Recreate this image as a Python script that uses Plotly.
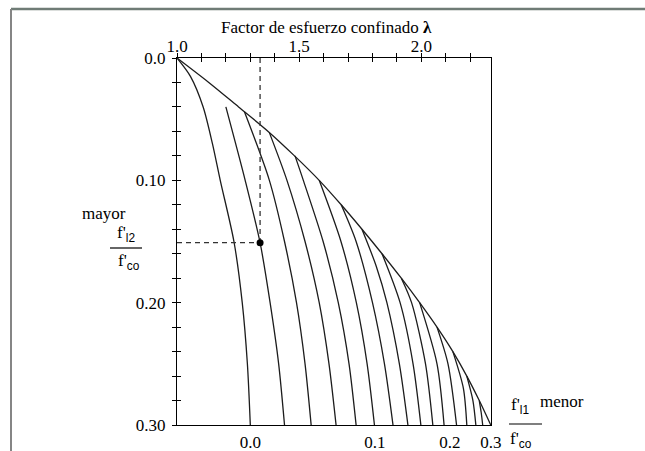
import plotly.graph_objects as go

# ---------------- data ----------------
# smaller confining ratio f'l1/f'co for each curve
curve_ratio = [0.00, 0.02, 0.04, 0.06, 0.08, 0.10, 0.12, 0.14,
               0.16, 0.18, 0.20, 0.22, 0.24, 0.26, 0.28]
# larger confining ratio f'l2/f'co along each curve
curve_v = [
    [0.000, 0.015, 0.040, 0.070, 0.100, 0.150, 0.200, 0.250, 0.300],
    [0.040, 0.100, 0.151, 0.200, 0.250, 0.300],
    [0.044, 0.100, 0.150, 0.200, 0.250, 0.300],
    [0.061, 0.100, 0.150, 0.200, 0.250, 0.300],
    [0.080, 0.100, 0.150, 0.200, 0.250, 0.300],
    [0.100, 0.150, 0.200, 0.250, 0.300],
    [0.120, 0.150, 0.200, 0.250, 0.300],
    [0.140, 0.170, 0.200, 0.250, 0.300],
    [0.160, 0.200, 0.250, 0.300],
    [0.180, 0.200, 0.250, 0.300],
    [0.200, 0.250, 0.300],
    [0.220, 0.250, 0.300],
    [0.240, 0.270, 0.300],
    [0.260, 0.280, 0.300],
    [0.280, 0.290, 0.300],
]
# confined strength factor lambda along each curve
curve_lam = [
    [1.000, 1.055, 1.107, 1.145, 1.177, 1.233, 1.267, 1.288, 1.300],
    [1.200, 1.279, 1.340, 1.381, 1.416, 1.440],
    [1.276, 1.378, 1.440, 1.489, 1.524, 1.549],
    [1.378, 1.450, 1.524, 1.582, 1.622, 1.651],
    [1.483, 1.517, 1.598, 1.660, 1.704, 1.733],
    [1.582, 1.671, 1.734, 1.778, 1.808],
    [1.672, 1.733, 1.800, 1.849, 1.884],
    [1.757, 1.815, 1.859, 1.910, 1.945],
    [1.839, 1.913, 1.966, 1.998],
    [1.918, 1.960, 2.017, 2.047],
    [1.993, 2.064, 2.093],
    [2.064, 2.109, 2.144],
    [2.129, 2.172, 2.186],
    [2.186, 2.211, 2.223],
    [2.237, 2.245, 2.251],
]
# envelope (equal confinement)
env_v = [0.00, 0.02, 0.04, 0.06, 0.08, 0.10, 0.12, 0.14,
         0.16, 0.18, 0.20, 0.22, 0.24, 0.26, 0.28, 0.30]
env_lam = [1.000, 1.130, 1.252, 1.373, 1.481, 1.582, 1.672, 1.757,
           1.839, 1.918, 1.993, 2.064, 2.129, 2.186, 2.237, 2.284]

# example point
point_lam = 1.34
point_v = 0.151

# tick labels
y_tick_vals = [0.0, 0.1, 0.2, 0.3]
y_tick_text = ["0.0", "0.10", "0.20", "0.30"]
bottom_tick_vals = [1.300, 1.810, 2.117, 2.284]
bottom_tick_text = ["0.0", "0.1", "0.2", "0.3"]

# ---------------- figure ----------------
FONT = "Liberation Serif, Times New Roman, serif"
SANS = "Liberation Sans, Arial, sans-serif"
LC = "#1c1c1c"

fig = go.Figure()

for lam, v in zip(curve_lam, curve_v):
    fig.add_trace(go.Scatter(x=lam, y=v, mode="lines",
                             line=dict(color=LC, width=1.3, shape="spline", smoothing=0.8),
                             hoverinfo="skip", showlegend=False))

fig.add_trace(go.Scatter(x=env_lam, y=env_v, mode="lines",
                         line=dict(color=LC, width=1.3, shape="spline", smoothing=0.8),
                         hoverinfo="skip", showlegend=False))

# dashed guide lines
fig.add_trace(go.Scatter(x=[point_lam, point_lam], y=[0, point_v], mode="lines",
                         line=dict(color="#333333", width=1.3, dash="5px,4px"),
                         hoverinfo="skip", showlegend=False))
fig.add_trace(go.Scatter(x=[1.0, point_lam], y=[point_v, point_v], mode="lines",
                         line=dict(color="#333333", width=1.3, dash="5px,4px"),
                         hoverinfo="skip", showlegend=False))
fig.add_trace(go.Scatter(x=[point_lam], y=[point_v], mode="markers",
                         marker=dict(color="black", size=7),
                         hoverinfo="skip", showlegend=False))

# dummy traces to register overlay axes
fig.add_trace(go.Scatter(x=[None], y=[None], xaxis="x3", yaxis="y2",
                         showlegend=False, hoverinfo="skip"))
fig.add_trace(go.Scatter(x=[None], y=[None], xaxis="x2", yaxis="y",
                         showlegend=False, hoverinfo="skip"))

XR = [1.0, 2.285]
YR = [0.30, 0.0]
tickfont = dict(family=FONT, size=17, color="black")

fig.update_layout(
    width=645, height=451,
    margin=dict(l=177, r=154, t=58, b=26),
    paper_bgcolor="white", plot_bgcolor="white",
    font=dict(family=FONT, size=17, color="black"),
    xaxis=dict(side="top", range=XR, tickmode="linear", tick0=1.0, dtick=0.5,
               tickformat=".1f", ticks="outside", ticklen=4, tickwidth=1.2,
               tickcolor="black", minor=dict(dtick=0.1, tick0=1.0, ticks="outside",
                                             ticklen=4, tickwidth=1.2, tickcolor="black"),
               showline=True, linecolor="black", linewidth=1.3, mirror=True,
               showgrid=False, zeroline=False, tickfont=tickfont,
               ticklabelstandoff=-6, automargin=False),
    xaxis3=dict(side="top", overlaying="x", anchor="y", range=XR, tickmode="linear",
                tick0=1.0, dtick=0.5, ticks="inside", ticklen=4, tickwidth=1.2,
                tickcolor="black", minor=dict(dtick=0.1, tick0=1.0, ticks="inside",
                                              ticklen=4, tickwidth=1.2, tickcolor="black"),
                showticklabels=False, showline=False, showgrid=False, zeroline=False,
                automargin=False),
    xaxis2=dict(side="bottom", overlaying="x", anchor="y", range=XR, tickmode="array",
                tickvals=bottom_tick_vals, ticktext=bottom_tick_text, ticks="",
                showline=False, showgrid=False, zeroline=False, tickfont=tickfont,
                ticklabelstandoff=5, automargin=False),
    yaxis=dict(range=YR, tickmode="array", tickvals=y_tick_vals, ticktext=y_tick_text,
               ticks="outside", ticklen=4, tickwidth=1.2, tickcolor="black",
               minor=dict(dtick=0.02, tick0=0, ticks="outside", ticklen=4,
                          tickwidth=1.2, tickcolor="black"),
               showline=True, linecolor="black", linewidth=1.3, mirror=True,
               showgrid=False, zeroline=False, tickfont=tickfont, ticklabelstandoff=3,
               automargin=False),
    yaxis2=dict(overlaying="y", anchor="x", range=YR, tickmode="array",
                tickvals=y_tick_vals, ticks="inside", ticklen=4, tickwidth=1.2,
                tickcolor="black", minor=dict(dtick=0.02, tick0=0, ticks="inside",
                                              ticklen=4, tickwidth=1.2, tickcolor="black"),
                showticklabels=False, showline=False, showgrid=False, zeroline=False,
                automargin=False),
)

def px_x(x):
    return (x - 177) / 314.0

def px_y(y):
    return (425 - y) / 367.0

def sub(t):
    return "<sub><span style='font-family:%s'>%s</span></sub>" % (SANS, t)

ann = []
ann.append(dict(text="Factor de esfuerzo confinado <b>λ</b>", x=px_x(326), y=px_y(28)))
ann.append(dict(text="mayor", x=px_x(103.5), y=px_y(213)))
ann.append(dict(text="f'" + sub("l2"), x=px_x(126), y=px_y(234)))
ann.append(dict(text="f'" + sub("co"), x=px_x(129), y=px_y(262)))
ann.append(dict(text="f'" + sub("l1"), x=px_x(520), y=px_y(406)))
ann.append(dict(text="menor", x=px_x(562), y=px_y(401)))
ann.append(dict(text="f'" + sub("co"), x=px_x(521), y=px_y(440)))
for a in ann:
    a.update(xref="paper", yref="paper", xanchor="center", yanchor="middle",
             showarrow=False, font=dict(family=FONT, size=17, color="black"))
fig.update_layout(annotations=ann)

shapes = [
    # fraction bars
    dict(type="line", xref="paper", yref="paper", x0=px_x(110), x1=px_x(142),
         y0=px_y(248), y1=px_y(248), line=dict(color="black", width=1.2)),
    dict(type="line", xref="paper", yref="paper", x0=px_x(509), x1=px_x(542),
         y0=px_y(424), y1=px_y(424), line=dict(color="black", width=1.2)),
    # outer grey frame
    dict(type="line", xref="paper", yref="paper", x0=px_x(11), x1=px_x(650),
         y0=px_y(9), y1=px_y(9), line=dict(color="#6f7c76", width=2.5)),
    dict(type="line", xref="paper", yref="paper", x0=px_x(11), x1=px_x(11),
         y0=px_y(9), y1=px_y(460), line=dict(color="#858585", width=2)),
]
fig.update_layout(shapes=shapes)

fig.write_html("out.html", config={"displayModeBar": False},
               post_script="document.body.style.margin='0';document.body.style.overflow='hidden';")
